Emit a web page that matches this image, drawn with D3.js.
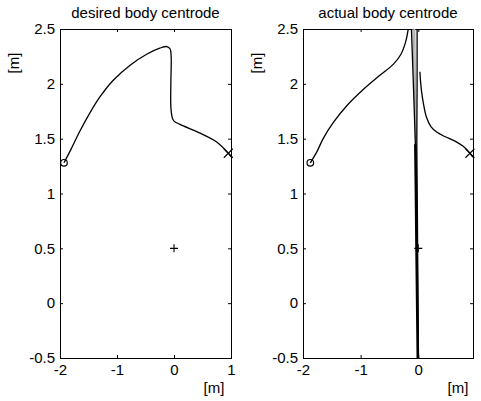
<!DOCTYPE html>
<html><head><meta charset="utf-8">
<script src="https://cdn.jsdelivr.net/npm/d3@7"></script>
<style>body{margin:0;background:#fff}svg{display:block}text{font-family:"Liberation Sans",Arial,sans-serif;fill:#000}</style>
</head><body>
<script>
// ---- data ----
const titles = ["desired body centrode", "actual body centrode"];
const yTicks = [-0.5, 0, 0.5, 1, 1.5, 2, 2.5];
const yTickLabels = ["-0.5", "0", "0.5", "1", "1.5", "2", "2.5"];
const xTicksLeft = [-2, -1, 0, 1];
const xTickLabelsLeft = ["-2", "-1", "0", "1"];
const xTicksRight = [-2, -1, 0];
const xTickLabelsRight = ["-2", "-1", "0"];
const xDomainLeft = [-2, 1];
const xDomainRight = [-2, 0.95];
const yDomain = [-0.5, 2.5];

const desiredX = [-1.93,-1.81,-1.65,-1.47,-1.30,-1.07,-0.77,-0.48,-0.25,-0.13,-0.07,-0.05,-0.055,-0.055,-0.03,0.0,0.105,0.46,0.75,0.953,1.0];
const desiredY = [1.28,1.40,1.57,1.74,1.88,2.03,2.17,2.27,2.325,2.34,2.32,2.25,2.01,1.79,1.69,1.66,1.63,1.55,1.47,1.367,1.335];

const actual1X = [-1.873,-1.76,-1.65,-1.47,-1.24,-0.95,-0.66,-0.43,-0.30,-0.22,-0.18,-0.16];
const actual1Y = [1.28,1.38,1.50,1.65,1.80,1.95,2.08,2.18,2.27,2.38,2.48,2.6];

const actual2X = [0.029,0.04,0.06,0.09,0.14,0.22,0.32,0.46,0.63,0.78,0.897,0.95];
const actual2Y = [2.11,2.02,1.92,1.82,1.70,1.61,1.56,1.52,1.48,1.43,1.367,1.33];

// near-vertical bundle (curve passing through infinity)
const bandBlackX = [[-0.125,-0.085,-0.05,-0.03,-0.005],[-0.02,-0.02,-0.025,-0.015,0.005]];
const bandBlackY = [[2.6,2.0,1.45,0.8,-0.6],[2.6,2.0,1.45,0.8,-0.6]];
const bandThickX = [-0.05,-0.04,-0.03,-0.005];
const bandThickY = [1.45,1.0,0.5,-0.6];
const bandGrayX = [[-0.095,-0.05],[-0.065,-0.035]];
const bandGrayY = [[2.6,1.5],[2.6,1.45]];

const startMark = [[-1.93,1.28],[-1.873,1.28]];
const endMark = [[0.953,1.367],[0.897,1.367]];
const plusMark = [0,0.5];

// ---- drawing ----
const W = 481, H = 401;
const svg = d3.select("body").append("svg").attr("width", W).attr("height", H);
svg.append("rect").attr("width", W).attr("height", H).attr("fill", "#fff");

const panels = [
  {x0: 60, x1: 231, xd: xDomainLeft, xt: xTicksLeft, xl: xTickLabelsLeft, xlabX: 214},
  {x0: 303, x1: 473, xd: xDomainRight, xt: xTicksRight, xl: xTickLabelsRight, xlabX: 458}
];
const plotTop = 29, plotBottom = 358;
const zip = (xs, ys) => xs.map((v, i) => [v, ys[i]]);

panels.forEach((p, i) => {
  const x = d3.scaleLinear(p.xd, [p.x0, p.x1]);
  const y = d3.scaleLinear(yDomain, [plotBottom, plotTop]);
  const g = svg.append("g");
  const cid = "clip" + i;
  svg.append("clipPath").attr("id", cid).append("rect")
    .attr("x", p.x0).attr("y", plotTop).attr("width", p.x1 - p.x0).attr("height", plotBottom - plotTop);

  const ax = (gen, tr, vals, labels) => {
    const a = g.append("g").attr("transform", tr)
      .call(gen.tickValues(vals).tickSizeInner(-3).tickSizeOuter(0)
        .tickFormat(labels ? (d, k) => labels[k] : () => ""));
    a.select(".domain").remove();
    a.selectAll("text").attr("font-size", 15).attr("font-family", "Liberation Sans, Arial, sans-serif");
    return a;
  };
  ax(d3.axisLeft(y).tickPadding(5), `translate(${p.x0},0)`, yTicks, yTickLabels);
  ax(d3.axisRight(y), `translate(${p.x1},0)`, yTicks, null);
  ax(d3.axisBottom(x).tickPadding(6), `translate(0,${plotBottom})`, p.xt, p.xl);
  ax(d3.axisTop(x), `translate(0,${plotTop})`, p.xt, null);
  g.append("rect").attr("x", p.x0 + 0.5).attr("y", plotTop + 0.5)
    .attr("width", p.x1 - p.x0).attr("height", plotBottom - plotTop)
    .attr("fill", "none").attr("stroke", "#000").attr("stroke-width", 1);

  g.append("text").attr("x", (p.x0 + p.x1) / 2).attr("y", 18).attr("text-anchor", "middle")
    .attr("font-size", 15).text(titles[i]);
  g.append("text").attr("x", p.xlabX).attr("y", 393).attr("text-anchor", "middle")
    .attr("font-size", 15).text("[m]");
  g.append("text").attr("transform", `translate(${p.x0 - 41},63) rotate(-90)`)
    .attr("text-anchor", "middle").attr("font-size", 15).text("[m]");

  const line = d3.line().x(d => x(d[0])).y(d => y(d[1]));
  const smooth = d3.line().x(d => x(d[0])).y(d => y(d[1])).curve(d3.curveCatmullRom.alpha(0.5));
  const cg = g.append("g").attr("clip-path", `url(#${cid})`);

  if (i === 0) {
    cg.append("path").datum(zip(desiredX, desiredY)).attr("d", smooth)
      .attr("fill", "none").attr("stroke", "#000").attr("stroke-width", 1.3);
  } else {
    bandGrayX.forEach((xs, k) => cg.append("path").datum(zip(xs, bandGrayY[k])).attr("d", line)
      .attr("fill", "none").attr("stroke", "#aaa").attr("stroke-width", 1.3));
    bandBlackX.forEach((xs, k) => cg.append("path").datum(zip(xs, bandBlackY[k])).attr("d", line)
      .attr("fill", "none").attr("stroke", "#000").attr("stroke-width", 1.3));
    cg.append("path").datum(zip(bandThickX, bandThickY)).attr("d", line)
      .attr("fill", "none").attr("stroke", "#000").attr("stroke-width", 2.6);
    cg.append("path").datum(zip(actual1X, actual1Y)).attr("d", smooth)
      .attr("fill", "none").attr("stroke", "#000").attr("stroke-width", 1.3);
    cg.append("path").datum(zip(actual2X, actual2Y)).attr("d", smooth)
      .attr("fill", "none").attr("stroke", "#000").attr("stroke-width", 1.3);
  }

  const s = startMark[i], e = endMark[i];
  g.append("circle").attr("cx", x(s[0])).attr("cy", y(s[1])).attr("r", 3.3)
    .attr("fill", "none").attr("stroke", "#000").attr("stroke-width", 1.2);
  const ex = x(e[0]), ey = y(e[1]), r = 4.5;
  g.append("path").attr("d", `M${ex - r},${ey - r}L${ex + r},${ey + r}M${ex - r},${ey + r}L${ex + r},${ey - r}`)
    .attr("stroke", "#000").attr("stroke-width", 1.1);
  const px = x(plusMark[0]), py = y(plusMark[1]), q = 4;
  g.append("path").attr("d", `M${px - q},${py}L${px + q},${py}M${px},${py - q}L${px},${py + q}`)
    .attr("stroke", "#000").attr("stroke-width", 1.1);
});
</script>
</body></html>
